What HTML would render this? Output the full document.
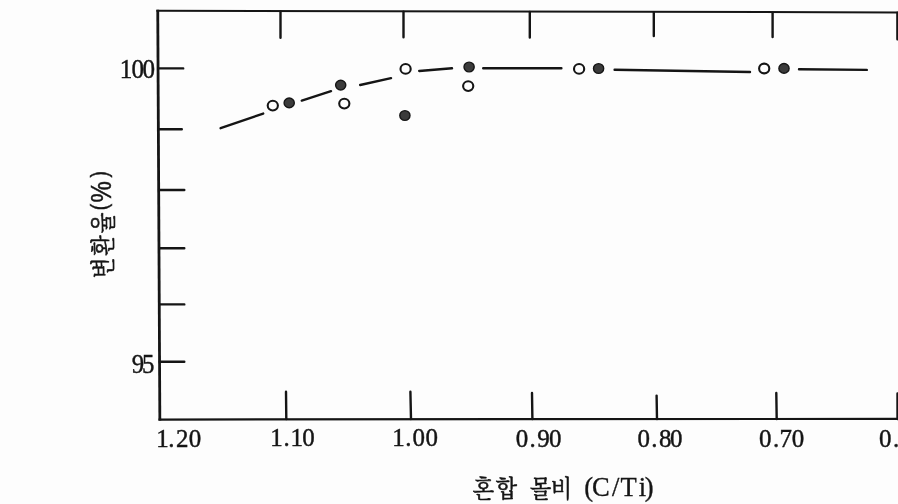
<!DOCTYPE html>
<html lang="ko">
<head>
<meta charset="utf-8">
<title>혼합 몰비 (C/Ti) - 변환율(%)</title>
<style>
html,body{margin:0;padding:0;background:#fdfdfd;}
body{width:898px;height:504px;overflow:hidden;}
svg{display:block;filter:grayscale(1) blur(0.3px);}
.ax{stroke:#151515;stroke-width:2.4;fill:none;stroke-linecap:butt;}
.tk{stroke:#151515;stroke-width:2.4;fill:none;stroke-linecap:round;}
.ln{stroke:#151515;stroke-width:2.4;fill:none;stroke-linecap:round;}
.oc{fill:#fdfdfd;stroke:#151515;stroke-width:2.1;}
.fc{fill:#3b3b3b;stroke:#151515;stroke-width:1.4;}
.num{font-family:"Liberation Serif","Noto Serif CJK SC",serif;fill:#151515;stroke:#151515;stroke-width:0.45;}
.ko{font-family:"Liberation Serif","Noto Serif CJK SC","Noto Sans CJK KR",serif;fill:#151515;stroke:#151515;stroke-width:0.6;}
.lat{font-family:"Liberation Serif","Noto Serif CJK SC",serif;fill:#151515;stroke:#151515;stroke-width:0.35;}
.sans{font-family:"Liberation Sans","Noto Sans CJK KR",sans-serif;fill:#151515;stroke:#151515;stroke-width:0.45;}
</style>
</head>
<body>
<svg width="898" height="504" viewBox="0 0 898 504">
<rect x="0" y="0" width="898" height="504" fill="#fdfdfd"/>

<!-- frame -->
<path class="ax" style="stroke-width:2.8" d="M157.75 9.7 L159.85 420.5"/>
<path class="ax" style="stroke-width:2" d="M156.4 10.65 L898 12.4"/>
<path class="ax" style="stroke-width:2.2" d="M158.5 419.55 L898 418.85"/>
<!-- ticks -->
<path class="tk" d="M280.5 11.4 V37.8 M403.5 11.7 V37.3 M529.8 12 V37.6 M653.8 12.3 V36 M772.6 12.6 V37 M897.4 12.8 V39.3"/>
<path class="tk" d="M286 391.8 L286.3 419 M410.4 391.7 L411 419 M532 393 L532.4 419 M656.6 395.6 L657 419 M776.3 393 L776.7 419 M897.5 393.5 V419"/>
<path class="tk" d="M158.5 68.4 H183.2 M158.8 129.3 H181.8 M159 190 H184.3 M159.3 248.2 H184.3 M159.5 304.4 H184.3 M159.8 361.7 H184.3"/>
<!-- dashed trend line -->
<path class="ln" d="M220.6 128.2 L263.2 113.6 M301.8 100.6 L331 91.2 M360.2 85 L391 78.1 M419.2 71 L452 68.3 M483.2 68.2 L561.4 68.2 M614.6 69.7 L750 72 M799 69.2 L866.8 69.9"/>
<!-- markers -->
<ellipse class="oc" cx="272.8" cy="105.6" rx="5.1" ry="4.85"/>
<ellipse class="oc" cx="344.3" cy="103.6" rx="5.1" ry="4.85"/>
<ellipse class="oc" cx="405.6" cy="68.9" rx="5.1" ry="4.85"/>
<ellipse class="oc" cx="468.2" cy="86.1" rx="5.1" ry="4.85"/>
<ellipse class="oc" cx="579.1" cy="68.9" rx="5.1" ry="4.85"/>
<ellipse class="oc" cx="764.2" cy="68.5" rx="5.1" ry="4.85"/>
<ellipse class="fc" cx="289.2" cy="102.9" rx="5.1" ry="4.85"/>
<ellipse class="fc" cx="340.7" cy="85.1" rx="5.1" ry="4.85"/>
<ellipse class="fc" cx="404.9" cy="115.5" rx="5.1" ry="4.85"/>
<ellipse class="fc" cx="469.1" cy="67" rx="5.1" ry="4.85"/>
<ellipse class="fc" cx="598.6" cy="68.5" rx="5.1" ry="4.85"/>
<ellipse class="fc" cx="784" cy="68.4" rx="5.1" ry="4.85"/>
<!-- y tick labels -->
<text class="num" font-size="27" transform="translate(122.00 77.70) scale(0.93 1)" x="-2.43 10.21 22.15" y="0">100</text>
<text class="num" font-size="27" transform="translate(132.50 373.40) scale(0.92 1)" x="-0.81 10.45" y="0">95</text>
<!-- x tick labels -->
<text class="num" font-size="26" transform="translate(158.40 447.00) scale(0.96 1)" x="-2.34 10.26 18.33 31.56" y="0">1.20</text>
<text class="num" font-size="26" transform="translate(272.60 445.60) scale(0.96 1)" x="-2.34 11.41 18.60 30.94" y="0">1.10</text>
<text class="num" font-size="26" transform="translate(394.40 445.50) scale(0.96 1)" x="-2.34 11.31 18.96 32.40" y="0">1.00</text>
<text class="num" font-size="26" transform="translate(516.70 446.50) scale(0.96 1)" x="-1.04 13.39 21.30 33.54" y="0">0.90</text>
<text class="num" font-size="26" transform="translate(638.40 446.50) scale(0.96 1)" x="-1.04 13.39 21.46 33.02" y="0">0.80</text>
<text class="num" font-size="26" transform="translate(759.90 447.20) scale(0.96 1)" x="-1.04 13.60 20.47 33.13" y="0">0.70</text>
<text class="num" font-size="26" transform="translate(880.00 446.50) scale(0.96 1)" x="-1.04 13.60" y="0">0.</text>
<!-- x axis title -->
<text class="ko" font-size="24" transform="translate(472.8 496.6) scale(0.92 1)" x="0.04 24.95 45.87 62.21 84.62" y="0">혼합 몰비</text>
<text class="lat" font-size="26.5" x="584.2 591.9 612 620.4 638.7 644.7" y="496.2">(C/Ti)</text>
<!-- y axis title -->
<g transform="translate(111.5 277) rotate(-90)">
<text class="ko" font-size="25" transform="scale(0.86 1)" x="-1.52 24.62 50.97" y="0">변환율</text>
<text class="sans" transform="scale(0.8 1)" font-size="24"><tspan x="83.44" y="-4.8">(</tspan><tspan font-size="30" x="93.12" y="-1">%</tspan><tspan x="124.25" y="-4.8">)</tspan></text>
</g>
</svg>
</body>
</html>
